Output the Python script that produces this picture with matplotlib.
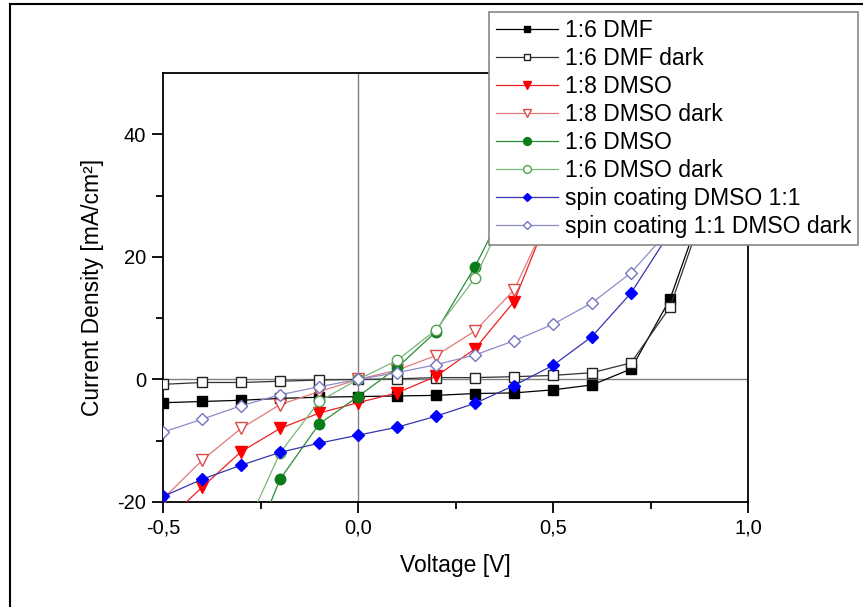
import numpy as np
import matplotlib
matplotlib.use("Agg")
import matplotlib.pyplot as plt
from matplotlib.lines import Line2D
from matplotlib.ticker import FixedLocator, FuncFormatter

plt.rcParams['font.family'] = ['Liberation Sans', 'DejaVu Sans']

# measured J-V data, current density in mA/cm^2 (nan = not measured)
voltage = [-0.5, -0.4, -0.3, -0.2, -0.1, 0.0, 0.1, 0.2, 0.3, 0.4, 0.5, 0.6, 0.7, 0.8, 0.9]
nan = np.nan

dmf_16 = [-3.8, -3.6, -3.4, -3.1, -2.9, -2.8, -2.7, -2.6, -2.3, -2.2, -1.7, -0.9, 1.7, 13.1, 31.0]
dmf_16_dark = [-0.8, -0.5, -0.5, -0.3, -0.1, 0.0, 0.1, 0.3, 0.3, 0.45, 0.65, 1.1, 2.7, 11.8, 30.0]
dmso_18 = [-23.6, -17.6, -11.8, -8.0, -5.5, -3.8, -2.2, 0.5, 5.0, 12.7, 28.5, nan, nan, nan, nan]
dmso_18_dark = [-19.5, -13.2, -8.0, -4.1, -2.0, 0.0, 1.5, 3.9, 7.9, 14.6, 28.0, nan, nan, nan, nan]
dmso_16 = [nan, nan, -32.0, -16.3, -7.3, -2.8, 1.9, 7.8, 18.4, 31.0, nan, nan, nan, nan, nan]
dmso_16_dark = [nan, nan, -26.0, -12.0, -3.6, 0.0, 3.1, 8.1, 16.5, 30.0, nan, nan, nan, nan, nan]
spin_11 = [-19.1, -16.3, -14.0, -11.9, -10.4, -9.1, -7.8, -6.0, -3.9, -1.0, 2.3, 7.0, 14.1, 24.0, nan]
spin_11_dark = [-8.6, -6.5, -4.3, -2.5, -1.2, 0.0, 1.1, 2.4, 4.0, 6.3, 9.0, 12.5, 17.4, 24.5, nan]

labels = ["1:6 DMF", "1:6 DMF dark", "1:8 DMSO", "1:8 DMSO dark",
          "1:6 DMSO", "1:6 DMSO dark", "spin coating DMSO 1:1",
          "spin coating 1:1 DMSO dark"]
series = [dmf_16, dmf_16_dark, dmso_18, dmso_18_dark,
          dmso_16, dmso_16_dark, spin_11, spin_11_dark]

# (marker, size, face, edge, line colour)
styles = [
    ("s", 6.5, "black", "black", "black"),
    ("s", 6.5, "white", "#222222", "#333333"),
    ("v", 8.0, "#ff0000", "#ff0000", "#ee2020"),
    ("v", 8.0, "white", "#e04848", "#e07a7a"),
    ("o", 7.5, "#0a7d1a", "#0a7d1a", "#2e8b3a"),
    ("o", 7.5, "white", "#55a055", "#78b878"),
    ("D", 6.0, "#0000ff", "#0000ff", "#3535b0"),
    ("D", 6.0, "white", "#7474c0", "#8c8cc8"),
]

fig = plt.figure(figsize=(8.63, 6.07), dpi=100)
ax = fig.add_axes([163 / 863, 1 - 502 / 607, 585 / 863, 429 / 607])

ax.axhline(0, color="#808080", lw=1.0, zorder=1)
ax.axvline(0, color="#808080", lw=1.0, zorder=1)

handles = []
for lab, ys, (mk, ms, fc, ec, lc) in zip(labels, series, styles):
    h, = ax.plot(voltage, ys, color=lc, lw=0.9, marker=mk, markersize=ms,
                 markerfacecolor=fc, markeredgecolor=ec, markeredgewidth=1.0,
                 label=lab, zorder=3)
    handles.append(h)

ax.set_xlim(-0.5, 1.0)
ax.set_ylim(-20, 50)

ax.xaxis.set_major_locator(FixedLocator([-0.5, 0.0, 0.5, 1.0]))
ax.xaxis.set_minor_locator(FixedLocator([-0.25, 0.25, 0.75]))
ax.yaxis.set_major_locator(FixedLocator([-20, 0, 20, 40]))
ax.yaxis.set_minor_locator(FixedLocator([-10, 10, 30]))
ax.xaxis.set_major_formatter(FuncFormatter(lambda v, p: f"{v:.1f}".replace(".", ",")))
ax.yaxis.set_major_formatter(FuncFormatter(lambda v, p: f"{v:.0f}"))

ax.tick_params(which="major", direction="out", length=8, width=1.3, labelsize=14.5, pad=4)
ax.tick_params(which="minor", direction="out", length=5, width=1.3)
ax.tick_params(top=False, right=False)
for sp in ax.spines.values():
    sp.set_linewidth(1.3)

ax.set_xlabel("Voltage [V]", fontsize=16.5, labelpad=12)
ax.set_ylabel("Current Density [mA/cm²]", fontsize=16.5, labelpad=10)

leg = fig.legend(handles=handles, loc="upper right",
                 bbox_to_anchor=(858 / 863, 1 - 12 / 607),
                 bbox_transform=fig.transFigure, fontsize=16.5,
                 frameon=True, fancybox=False, edgecolor="#888888",
                 framealpha=1.0, borderaxespad=0, handlelength=2.7,
                 handletextpad=0.3, labelspacing=0.22, borderpad=0.3,
                 markerscale=0.75)
leg.get_frame().set_linewidth(1.2)

# frame lines around the figure
fig.add_artist(Line2D([10 / 863, 1.0], [1 - 4 / 607] * 2,
                      transform=fig.transFigure, color="black", lw=1.5))
fig.add_artist(Line2D([10 / 863] * 2, [0.0, 1 - 4 / 607],
                      transform=fig.transFigure, color="black", lw=1.5))

fig.savefig("out.png", dpi=100)
